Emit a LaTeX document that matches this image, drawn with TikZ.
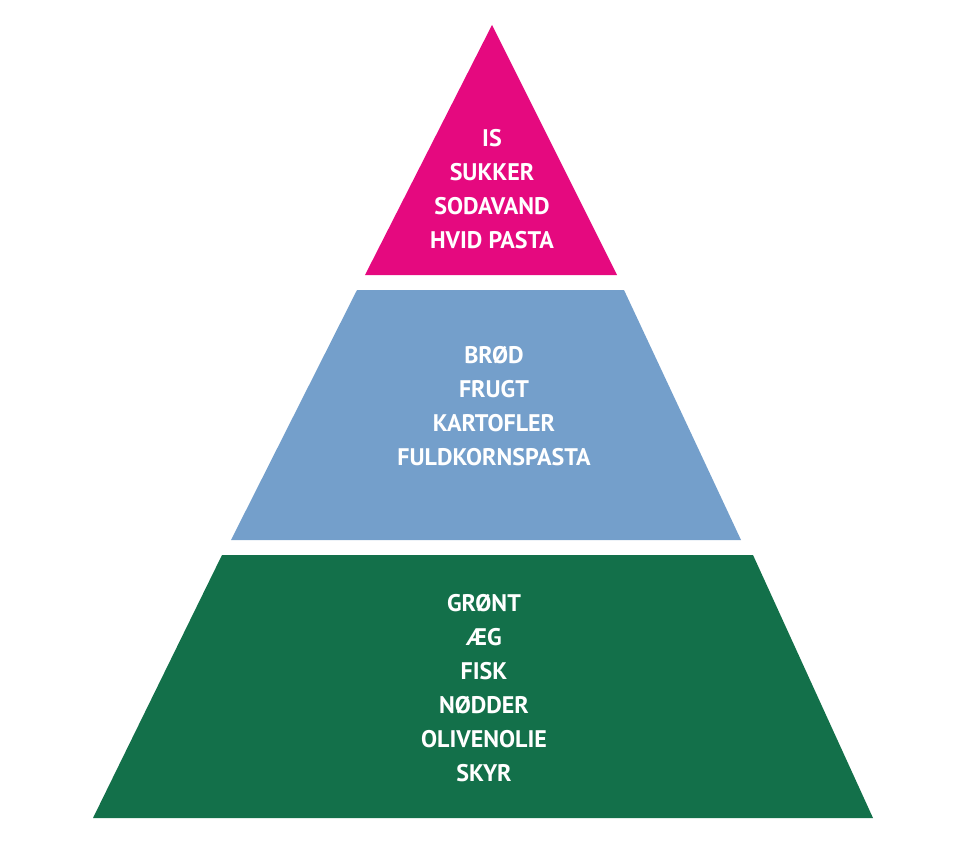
\documentclass[tikz,border=0pt]{standalone}
\usepackage{fontspec}
\setmainfont{PT Sans}
\definecolor{pk}{HTML}{E5097F}
\definecolor{bl}{HTML}{749FCB}
\definecolor{gr}{HTML}{13704A}
\begin{document}
\begin{tikzpicture}[x=1pt,y=-1pt,
 lbl/.style={text=white,font=\fontsize{24}{34}\selectfont\bfseries,align=center}]
\useasboundingbox (0,0) rectangle (960,840);
\fill[pk] (492,25) -- (617,275) -- (365,275) -- cycle;
\fill[bl] (357,290) -- (624,290) -- (741,540) -- (231,540) -- cycle;
\fill[gr] (222,555) -- (753,555) -- (873,818) -- (93,818) -- cycle;
\node[lbl] (t) at (492,189) {IS\\SUKKER\\SODAVAND\\HVID PASTA};
\node[lbl] (m) at (494,406) {BRØD\\FRUGT\\KARTOFLER\\FULDKORNSPASTA};
\node[lbl] (b) at (484,688) {GRØNT\\ÆG\\FISK\\NØDDER\\OLIVENOLIE\\SKYR};
\end{tikzpicture}
\end{document}
